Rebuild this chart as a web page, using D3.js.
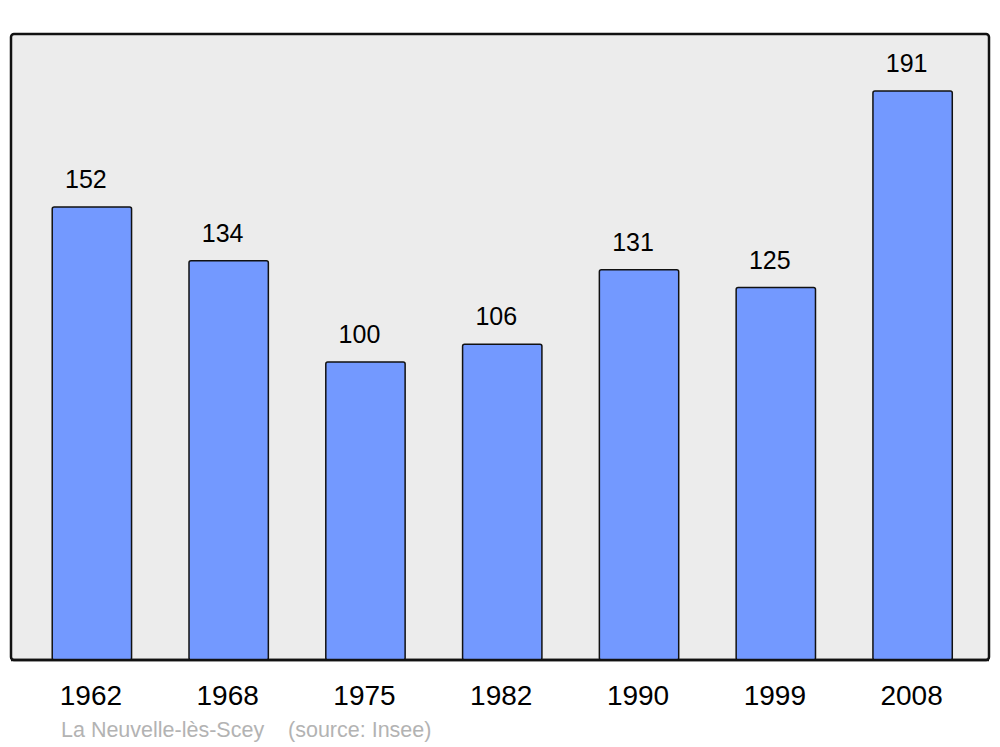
<!DOCTYPE html>
<html>
<head>
<meta charset="utf-8">
<script src="https://cdn.jsdelivr.net/npm/d3@7"></script>
<style>
  body { margin: 0; background: #fff; }
  svg { display: block; font-family: "Liberation Sans", Arial, sans-serif; }
</style>
</head>
<body>
<script>
const years = ["1962", "1968", "1975", "1982", "1990", "1999", "2008"];
const population = [152, 134, 100, 106, 131, 125, 191];
const caption = "La Neuvelle-lès-Scey    (source: Insee)";

const width = 1000, height = 747;
const frame = {left: 11, top: 34, right: 989, bottom: 660};

const svg = d3.select("body").append("svg")
  .attr("width", width)
  .attr("height", height);

// background panel
svg.append("rect")
  .attr("x", frame.left)
  .attr("y", frame.top)
  .attr("width", frame.right - frame.left)
  .attr("height", frame.bottom - frame.top)
  .attr("rx", 3)
  .attr("fill", "#ececec")
  .attr("stroke", "#111")
  .attr("stroke-width", 2.5);

const x = d3.scaleBand()
  .domain(years)
  .range([23.5, 981])
  .paddingInner(0.42)
  .paddingOuter(0.21);

const y = d3.scaleLinear()
  .domain([0, d3.max(population) * 1.1])
  .range([frame.bottom, frame.top]);

const data = years.map((yr, i) => ({year: yr, value: population[i]}));

const bar = svg.append("g")
  .selectAll("g")
  .data(data)
  .join("g");

bar.append("rect")
  .attr("x", d => x(d.year))
  .attr("y", d => y(d.value))
  .attr("width", x.bandwidth())
  .attr("height", d => frame.bottom - y(d.value))
  .attr("rx", 2)
  .attr("fill", "#7399ff")
  .attr("stroke", "#111")
  .attr("stroke-width", 1.5);

bar.append("text")
  .attr("x", d => x(d.year) + x.bandwidth() / 2 - 6)
  .attr("y", d => y(d.value) - 19)
  .attr("text-anchor", "middle")
  .attr("font-size", 25)
  .attr("fill", "#000")
  .text(d => d.value);

// redraw bottom edge of frame over bars
svg.append("line")
  .attr("x1", frame.left)
  .attr("x2", frame.right)
  .attr("y1", frame.bottom)
  .attr("y2", frame.bottom)
  .attr("stroke", "#111")
  .attr("stroke-width", 2.5);

const xAxis = g => g
  .attr("transform", `translate(-1,${frame.bottom})`)
  .call(d3.axisBottom(x).tickSize(0).tickPadding(0))
  .call(g => g.select(".domain").remove())
  .call(g => g.selectAll(".tick text")
    .attr("dy", null)
    .attr("y", 45)
    .attr("font-size", 28)
    .attr("font-family", "Liberation Sans, Arial, sans-serif")
    .attr("fill", "#000"));

svg.append("g").call(xAxis);

svg.append("text")
  .attr("x", 61)
  .attr("y", 737)
  .attr("font-size", 21.5)
  .attr("fill", "#b3b3b3")
  .attr("xml:space", "preserve")
  .style("white-space", "pre")
  .text(caption);
</script>
</body>
</html>
